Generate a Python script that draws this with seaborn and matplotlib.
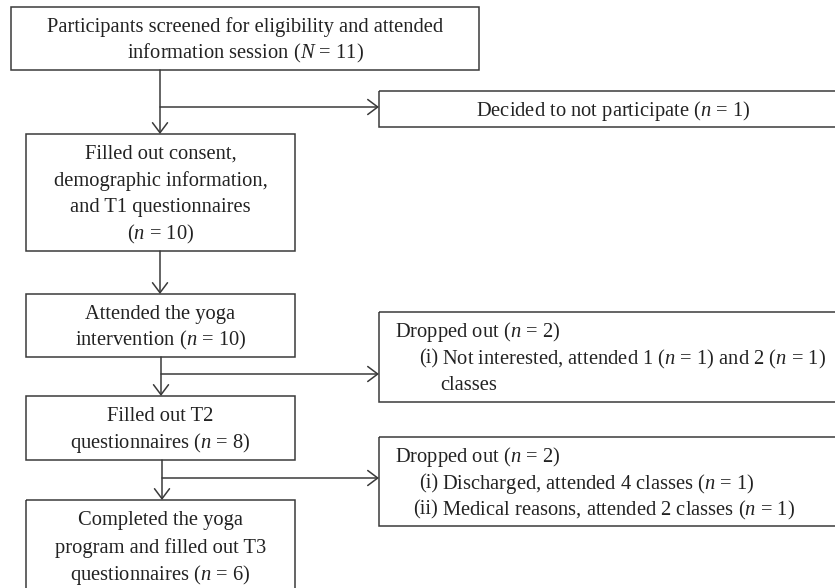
import matplotlib
matplotlib.use("Agg")
import matplotlib.pyplot as plt
import seaborn as sns
from matplotlib.patches import Rectangle

# flow of participants through the study
main_steps = [
    "Participants screened for eligibility and attended\ninformation session ($N$ = 11)",
    "Filled out consent,\ndemographic information,\nand T1 questionnaires\n($n$ = 10)",
    "Attended the yoga\nintervention ($n$ = 10)",
    "Filled out T2\nquestionnaires ($n$ = 8)",
    "Completed the yoga\nprogram and filled out T3\nquestionnaires ($n$ = 6)",
]
exit_titles = [
    "Decided to not participate ($n$ = 1)",
    "Dropped out ($n$ = 2)",
    "Dropped out ($n$ = 2)",
]
exit_numerals = [[], ["(i)"], ["(i)", "(ii)"]]
exit_reasons = [
    [],
    ["Not interested, attended 1 ($n$ = 1) and 2 ($n$ = 1)\nclasses"],
    ["Discharged, attended 4 classes ($n$ = 1)",
     "Medical reasons, attended 2 classes ($n$ = 1)"],
]

# layout in pixels (y grows downward)
main_boxes = [(11, 7, 479, 70), (26, 134, 295, 251), (26, 294, 295, 357),
              (26, 396, 295, 460), (26, 500, 295, 592)]
exit_boxes = [(379, 91, 848, 127), (379, 312, 848, 402), (379, 437, 848, 526)]
exit_from = [0, 2, 3]
branch_y = [107, 374, 478]
trunk_x = [160, 160, 161, 162]

sns.set_theme(style="white")
plt.rcParams["font.family"] = ["Liberation Serif", "DejaVu Serif"]
plt.rcParams["mathtext.fontset"] = "custom"
plt.rcParams["mathtext.rm"] = "Liberation Serif"
plt.rcParams["mathtext.it"] = "Liberation Serif:italic"

line_col = "#3a3a3a"
txt_col = "#222222"
fs = 14.8
step = 26.8
dy = 2  # optical nudge so x-height sits centred like the original

fig = plt.figure(figsize=(8.35, 5.88), dpi=100)
ax = fig.add_axes([0, 0, 1, 1])
ax.set_xlim(0, 835)
ax.set_ylim(588, 0)
ax.axis("off")


def box(x0, y0, x1, y1):
    ax.add_patch(Rectangle((x0, y0), x1 - x0, y1 - y0, fill=False,
                           edgecolor=line_col, linewidth=1.1))


def arrow(x0, y0, x1, y1):
    ax.annotate("", xy=(x1, y1), xytext=(x0, y0),
                arrowprops=dict(arrowstyle="->,head_length=0.6,head_width=0.45",
                                color=line_col, lw=1.1, shrinkA=0, shrinkB=0))


def put(x, y, s, ha):
    ax.text(x, y + dy, s, ha=ha, va="center", fontsize=fs, color=txt_col)


# main column
for label, (x0, y0, x1, y1) in zip(main_steps, main_boxes):
    box(x0, y0, x1, y1)
    lines = label.split("\n")
    yc = (y0 + y1) / 2 - step * (len(lines) - 1) / 2
    if y1 > 588:
        yc = y0 + 19
    for k, ln in enumerate(lines):
        put((x0 + x1) / 2, yc + k * step, ln, "center")

# vertical arrows between main boxes
for i in range(len(main_boxes) - 1):
    x = trunk_x[i]
    arrow(x, main_boxes[i][3], x, main_boxes[i + 1][1])

# exit boxes
for j, (title, nums, reasons) in enumerate(zip(exit_titles, exit_numerals, exit_reasons)):
    x0, y0, x1, y1 = exit_boxes[j]
    box(x0, y0, x1, y1)
    src = exit_from[j]
    arrow(trunk_x[src], branch_y[j], x0, branch_y[j])
    if not nums:
        put(613, (y0 + y1) / 2, title, "center")
        continue
    n_lines = 1 + sum(len(r.split("\n")) for r in reasons)
    y = (y0 + y1) / 2 - step * (n_lines - 1) / 2
    put(395, y, title, "left")
    for num, reason in zip(nums, reasons):
        y += step
        put(438, y, num, "right")
        parts = reason.split("\n")
        put(442, y, parts[0], "left")
        for extra in parts[1:]:
            y += step
            put(440, y, extra, "left")

fig.savefig("out.png", dpi=100)
